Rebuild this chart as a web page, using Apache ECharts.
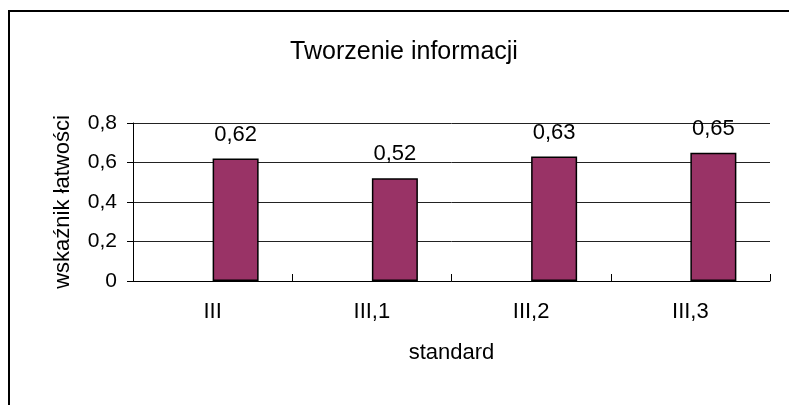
<!DOCTYPE html>
<html>
<head>
<meta charset="utf-8">
<script src="https://cdn.jsdelivr.net/npm/echarts@6/dist/echarts.min.js"></script>
<style>
  html, body { margin: 0; padding: 0; background: #fff; }
  #chart { width: 789px; height: 405px; }
</style>
</head>
<body>
<div id="chart"></div>
<script>
// Chart data
const categories = ['III', 'III,1', 'III,2', 'III,3'];
const values = [0.62, 0.52, 0.63, 0.65];
const emptySlot = [null, null, null, null]; // placeholder series: keeps bars right of category centre
const yTicks = [0, 0.2, 0.4, 0.6, 0.8];

const FONT = 'Liberation Sans, Arial, sans-serif';
const comma = v => String(v).replace('.', ',');

const chart = echarts.init(document.getElementById('chart'), null, { renderer: 'canvas' });

chart.setOption({
  animation: false,
  backgroundColor: '#ffffff',
  textStyle: { fontFamily: FONT, color: '#000' },
  graphic: [{
    type: 'rect',
    shape: { x: 9, y: 11, width: 800, height: 420 },
    style: { fill: 'none', stroke: '#000', lineWidth: 2 },
    silent: true,
    z: 100
  }],
  title: {
    text: 'Tworzenie informacji',
    left: 399,
    textAlign: 'center',
    top: 35,
    textStyle: { fontFamily: FONT, fontSize: 25, fontWeight: 'normal', color: '#000' }
  },
  grid: { left: 133, top: 123, width: 637, height: 158, containLabel: false },
  xAxis: {
    type: 'category',
    data: categories,
    name: 'standard',
    nameLocation: 'middle',
    nameGap: 61,
    nameTextStyle: { fontFamily: FONT, fontSize: 22, color: '#000' },
    axisLine: { lineStyle: { color: '#000', width: 1 } },
    axisTick: { show: true, inside: true, length: 7, lineStyle: { color: '#000' } },
    axisLabel: { fontFamily: FONT, fontSize: 22, color: '#000', margin: 20 },
    splitLine: { show: false }
  },
  yAxis: {
    type: 'value',
    min: yTicks[0],
    max: yTicks[yTicks.length - 1],
    interval: 0.2,
    name: 'wskaźnik łatwości',
    nameLocation: 'middle',
    nameGap: 59,
    nameRotate: 90,
    nameTextStyle: { fontFamily: FONT, fontSize: 22, color: '#000' },
    axisLine: { show: true, lineStyle: { color: '#000', width: 1 } },
    axisTick: { show: true, length: 6, lineStyle: { color: '#000' } },
    axisLabel: {
      fontFamily: FONT, fontSize: 21, color: '#000', margin: 16,
      formatter: v => comma(Math.round(v * 10) / 10)
    },
    splitLine: { show: true, lineStyle: { color: '#222', width: 1 } }
  },
  series: [
    {
      type: 'bar',
      name: 'pusty',
      data: emptySlot,
      barWidth: 46,
      barGap: '0%'
    },
    {
      type: 'bar',
      name: 'wskaźnik',
      data: values,
      barWidth: 46,
      barGap: '0%',
      itemStyle: { color: '#993366', borderColor: '#000', borderWidth: 1.5 },
      label: {
        show: true,
        position: 'top',
        distance: 13,
        fontFamily: FONT,
        fontSize: 22,
        color: '#000',
        formatter: p => comma(p.value)
      }
    }
  ]
});
</script>
</body>
</html>
